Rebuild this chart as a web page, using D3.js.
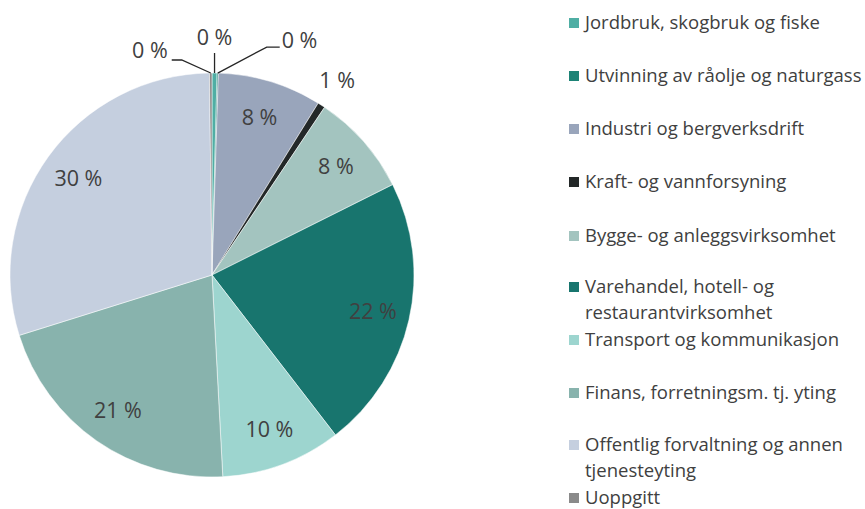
<!DOCTYPE html>
<html>
<head>
<meta charset="utf-8">
<script src="https://cdn.jsdelivr.net/npm/d3@7"></script>
<style>
  body { margin: 0; background: #fff; }
  text { font-family: "Open Sans", "Liberation Sans", Arial, sans-serif; fill: #404040; }
</style>
</head>
<body>
<div id="chart"></div>
<script>
// sectors (legend order = slice order, clockwise from 12 o'clock)
var categories = [
  "Jordbruk, skogbruk og fiske",
  "Utvinning av råolje og naturgass",
  "Industri og bergverksdrift",
  "Kraft- og vannforsyning",
  "Bygge- og anleggsvirksomhet",
  "Varehandel, hotell- og restaurantvirksomhet",
  "Transport og kommunikasjon",
  "Finans, forretningsm. tj. yting",
  "Offentlig forvaltning og annen tjenesteyting",
  "Uoppgitt"
];
// share in percent
var shares = [0.4, 0.1, 8.3, 0.6, 8.2, 21.9, 9.6, 21.0, 29.6, 0.2];
var colors = ["#4faea4", "#1d8376", "#99a5bb", "#232828", "#a3c4bf",
              "#18756e", "#9dd5cf", "#88b3ad", "#c5cfdf", "#8a8a8a"];
// legend lines (wrapped as in the original)
var legendLines = [
  ["Jordbruk, skogbruk og fiske"],
  ["Utvinning av råolje og naturgass"],
  ["Industri og bergverksdrift"],
  ["Kraft- og vannforsyning"],
  ["Bygge- og anleggsvirksomhet"],
  ["Varehandel, hotell- og", "restaurantvirksomhet"],
  ["Transport og kommunikasjon"],
  ["Finans, forretningsm. tj. yting"],
  ["Offentlig forvaltning og annen", "tjenesteyting"],
  ["Uoppgitt"]
];

var width = 865, height = 509;
var cx = 212, cy = 275, radius = 202;

var svg = d3.select("#chart").append("svg")
    .attr("width", width)
    .attr("height", height);

var g = svg.append("g")
    .attr("transform", "translate(" + cx + "," + cy + ")");

var total = d3.sum(shares);
var data = categories.map(function(c, i) { return {name: c, value: shares[i], i: i}; });

var pie = d3.pie()
    .sort(null)
    .value(function(d) { return d.value; });

var arc = d3.arc().innerRadius(0).outerRadius(radius);
var labelArc = d3.arc().innerRadius(165).outerRadius(165);

var arcs = pie(data);

g.selectAll("path.slice")
  .data(arcs)
  .enter().append("path")
    .attr("class", "slice")
    .attr("d", arc)
    .attr("fill", function(d) { return colors[d.data.i]; })
    .attr("stroke", "#ffffff")
    .attr("stroke-width", 0.5);

function pct(d) { return Math.round(d.data.value / total * 100) + " %"; }

var labelSize = "21.5px";

// big slices: label inside near the edge
g.selectAll("text.inlabel")
  .data(arcs.filter(function(d) { return d.data.value >= 1.5; }))
  .enter().append("text")
    .attr("class", "inlabel")
    .attr("transform", function(d) { return "translate(" + labelArc.centroid(d) + ")"; })
    .attr("text-anchor", "middle")
    .attr("dy", "0.35em")
    .style("font-size", labelSize)
    .text(pct);

// small slices: labels outside, some with leader lines
// leader: [elbow dx, elbow dy, horizontal run] relative to the slice edge
var leaders = {
  0: {pts: [[0, -20]], anchor: "middle", tx: 0, ty: -36},
  1: {pts: [[49, -26], [62, -26]], anchor: "start", tx: 64, ty: -33},
  9: {pts: [[-29, -13], [-39, -13]], anchor: "end", tx: -43, ty: -23}
};

arcs.filter(function(d) { return d.data.value < 1.5; }).forEach(function(d) {
  var a = (d.startAngle + d.endAngle) / 2;
  var ex = Math.sin(a) * radius, ey = -Math.cos(a) * radius;
  var L = leaders[d.data.i];
  if (L) {
    var line = [[ex, ey]].concat(L.pts.map(function(p) { return [ex + p[0], ey + p[1]]; }));
    g.append("path")
      .attr("d", d3.line()(line))
      .attr("fill", "none")
      .attr("stroke", "#262626")
      .attr("stroke-width", 1.3);
    g.append("text")
      .attr("x", ex + L.tx)
      .attr("y", ey + L.ty)
      .attr("text-anchor", L.anchor)
      .attr("dy", "0.35em")
      .style("font-size", labelSize)
      .text(pct(d));
  } else {
    var r2 = 231;
    g.append("text")
      .attr("x", Math.sin(a) * r2)
      .attr("y", -Math.cos(a) * r2)
      .attr("text-anchor", "middle")
      .attr("dy", "0.35em")
      .style("font-size", labelSize)
      .text(pct(d));
  }
});

// legend
var rowY = [23, 76, 129, 182, 236, 287, 340, 393, 445, 498];
var legend = svg.append("g").attr("class", "legend");
var item = legend.selectAll("g")
  .data(data)
  .enter().append("g")
    .attr("transform", function(d) { return "translate(569," + rowY[d.i] + ")"; });

item.append("rect")
  .attr("x", 0).attr("y", -5)
  .attr("width", 10).attr("height", 10)
  .attr("fill", function(d) { return colors[d.i]; });

item.append("text")
  .attr("x", 16)
  .style("font-size", "18.5px")
  .selectAll("tspan")
  .data(function(d) { return legendLines[d.i]; })
  .enter().append("tspan")
    .attr("x", 16)
    .attr("dy", function(t, j) { return j === 0 ? "0.35em" : "26px"; })
    .text(function(t) { return t; });
</script>
</body>
</html>
